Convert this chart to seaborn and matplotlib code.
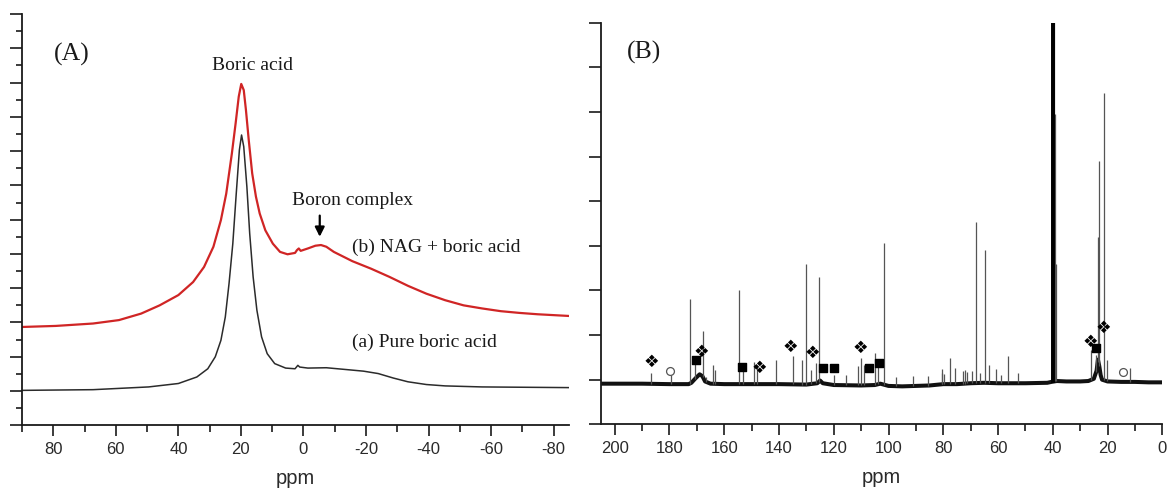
import numpy as np
import pandas as pd
import matplotlib
matplotlib.use("Agg")
import matplotlib.pyplot as plt
from matplotlib.ticker import MultipleLocator
import seaborn as sns

# ---------------- Panel A: 11B NMR spectra ----------------
# (b) NAG + boric acid
nag_ppm = [89.8, 79.2, 67.3, 59.0, 51.9, 46.0, 40.0, 35.3, 31.8, 28.8, 26.4, 24.7,
           22.9, 21.7, 20.7, 19.9, 19.1, 18.4, 17.5, 16.4, 15.2, 14.0, 12.2, 9.8,
           7.5, 5.1, 2.7, 2.1, 1.5, 0.9, -1.4, -3.8, -5.6, -7.3, -9.7, -15.6, -21.6,
           -27.5, -33.4, -39.3, -45.3, -51.2, -57.1, -63.1, -69.0, -74.9, -85.0]
nag_int = [2.87, 2.90, 2.97, 3.07, 3.26, 3.50, 3.80, 4.18, 4.62, 5.21, 5.99, 6.76,
           7.93, 8.81, 9.59, 9.96, 9.78, 9.20, 8.32, 7.35, 6.67, 6.18, 5.69, 5.30,
           5.06, 4.99, 5.03, 5.11, 5.16, 5.09, 5.16, 5.24, 5.26, 5.21, 5.06, 4.79, 4.57,
           4.33, 4.07, 3.84, 3.65, 3.50, 3.41, 3.33, 3.28, 3.24, 3.19]

# (a) Pure boric acid
pure_ppm = [89.8, 67.3, 49.5, 40.0, 34.1, 30.6, 28.2, 26.4, 25.0, 23.8, 22.6, 21.5,
            20.5, 19.8, 19.1, 18.1, 17.2, 16.1, 14.9, 13.4, 11.6, 9.2, 5.7, 2.7, 1.8,
            1.2, -1.4, -7.3, -13.3, -19.2, -23.9, -28.7, -33.4, -39.3, -45.3, -57.1, -85.0]
pure_int = [1.02, 1.04, 1.12, 1.22, 1.41, 1.65, 2.00, 2.48, 3.16, 4.14, 5.30, 6.76,
            8.03, 8.47, 8.13, 6.96, 5.60, 4.33, 3.36, 2.58, 2.09, 1.80, 1.67, 1.65, 1.75,
            1.70, 1.67, 1.68, 1.63, 1.58, 1.51, 1.38, 1.27, 1.19, 1.15, 1.12, 1.10]

# ---------------- Panel B: 13C NMR spectrum ----------------
base_ppm = [205, 190, 180, 173, 172, 170.5, 169, 168, 167, 165, 160, 150, 140, 130,
            126, 125, 124, 120, 110, 105, 103, 100, 95, 90, 85, 80, 75, 70, 65, 60,
            50, 42, 40.5, 38.5, 35, 30, 27, 25, 24, 23.5, 23, 22.5, 22, 20, 15, 10, 5, 0]
base_int = [0.91, 0.91, 0.90, 0.90, 0.93, 1.03, 1.12, 1.08, 0.96, 0.91, 0.90, 0.90,
            0.90, 0.89, 0.92, 0.98, 0.92, 0.88, 0.87, 0.88, 0.91, 0.86, 0.85, 0.86,
            0.87, 0.90, 0.90, 0.92, 0.93, 0.92, 0.92, 0.93, 0.95, 0.97, 0.96, 0.96,
            0.97, 1.02, 1.20, 1.45, 1.30, 1.10, 1.00, 0.96, 0.95, 0.95, 0.94, 0.94]

peak_ppm = [186.6, 179.3, 172.6, 170.6, 167.8, 166.6, 164.2, 163.3, 154.7, 153.2,
            149.2, 148.0, 141.0, 134.9, 131.6, 130.2, 128.4, 126.5, 125.5, 119.8,
            115.5, 111.2, 110.0, 108.8, 104.8, 103.8, 101.7, 97.3, 90.9, 85.7, 80.6,
            80.3, 79.8, 77.5, 75.6, 72.7, 72.0, 71.3, 69.6, 68.0, 66.5, 64.6, 63.3,
            60.7, 58.8, 56.2, 52.8, 40.2, 39.9, 39.6, 39.3, 39.0, 26.0, 24.2, 23.3,
            23.0, 21.2, 20.3, 11.8]
peak_int = [1.14, 1.10, 2.81, 1.35, 2.10, 1.07, 1.32, 1.22, 3.01, 1.20,
            1.39, 1.30, 1.44, 1.52, 1.44, 3.60, 1.22, 1.37, 3.31, 1.10,
            1.10, 1.30, 1.48, 1.33, 1.60, 1.30, 4.06, 1.07, 1.08, 1.08, 1.15,
            1.23, 1.12, 1.48, 1.26, 1.20, 1.22, 1.18, 1.20, 4.54, 1.15, 3.91, 1.33,
            1.23, 1.10, 1.53, 1.16, 12.0, 12.0, 12.0, 6.96, 3.60, 1.67, 1.55, 4.19,
            5.89, 7.42, 1.43, 1.26]

# assignment symbols
clover_ppm = [186.5, 168.2, 147.2, 135.7, 127.8, 110.4, 26.2, 21.5]
clover_int = [1.39, 1.61, 1.26, 1.74, 1.59, 1.70, 1.85, 2.15]
square_ppm = [170.4, 153.4, 124.0, 119.8, 107.2, 103.4, 24.2]
square_int = [1.43, 1.28, 1.26, 1.26, 1.26, 1.37, 1.70]
circle_ppm = [179.8, 14.2]
circle_int = [1.20, 1.18]

sns.set_theme(style="ticks")
plt.rcParams["font.family"] = ["Liberation Sans", "DejaVu Sans"]
plt.rcParams["axes.unicode_minus"] = False
SERIF = ["Liberation Serif", "DejaVu Serif"]

fig = plt.figure(figsize=(11.68, 4.9), dpi=100)
axA = fig.add_axes([0.01884, 0.1320, 0.4686, 0.8394])
axB = fig.add_axes([0.5146, 0.1341, 0.4805, 0.8196])

# ---- Panel A ----
dfa = pd.DataFrame({"ppm": pure_ppm, "I": pure_int})
dfb = pd.DataFrame({"ppm": nag_ppm, "I": nag_int})
sns.lineplot(data=dfb, x="ppm", y="I", ax=axA, color="#d02525", lw=1.6, sort=False)
sns.lineplot(data=dfa, x="ppm", y="I", ax=axA, color="#2b2b2b", lw=1.1, sort=False)
axA.set_xlim(90, -85)
axA.set_ylim(0, 12)
axA.xaxis.set_major_locator(MultipleLocator(20))
axA.xaxis.set_minor_locator(MultipleLocator(10))
axA.yaxis.set_major_locator(MultipleLocator(1))
axA.yaxis.set_minor_locator(MultipleLocator(0.5))
axA.set_yticklabels([])

axA.text(74.0, 10.83, "(A)", family=SERIF, fontsize=18.5, ha="center", va="center", color="#1a1a1a")
axA.text(16.2, 10.51, "Boric acid", family=SERIF, fontsize=14, ha="center", va="center", color="#1a1a1a")
axA.text(-15.6, 6.57, "Boron complex", family=SERIF, fontsize=14, ha="center", va="center", color="#1a1a1a")
axA.annotate("", xy=(-5.2, 5.42), xytext=(-5.2, 6.2),
             arrowprops=dict(arrowstyle="-|>", color="black", lw=1.6, mutation_scale=14))
axA.text(-15.4, 5.19, "(b) NAG + boric acid", family=SERIF, fontsize=14, ha="left", va="center", color="#1a1a1a")
axA.text(-15.4, 2.43, "(a) Pure boric acid", family=SERIF, fontsize=14, ha="left", va="center", color="#1a1a1a")

# ---- Panel B ----
dfbase = pd.DataFrame({"ppm": base_ppm, "I": base_int})
sns.lineplot(data=dfbase, x="ppm", y="I", ax=axB, color="#111111", lw=2.9, sort=False)
peak_base = np.interp(peak_ppm, base_ppm[::-1], base_int[::-1])
axB.vlines(peak_ppm, peak_base, peak_int, color="#555555", lw=0.9)
# thick solvent multiplet
axB.vlines([40.1, 39.8, 39.5], 0.93, 12.0, color="black", lw=1.4)
axB.scatter(square_ppm, square_int, marker="s", s=26, color="black", zorder=5)
axB.scatter(circle_ppm, circle_int, marker="o", s=32, facecolor="white",
            edgecolor="#555555", linewidth=0.9, zorder=5)
for x, y in zip(clover_ppm, clover_int):
    axB.text(x, y, "\u2756", fontsize=12.5, ha="center", va="center",
             family=["DejaVu Sans"], color="black", zorder=6)
axB.set_xlim(205, 0)
axB.set_ylim(0, 9)
axB.xaxis.set_major_locator(MultipleLocator(20))
axB.xaxis.set_minor_locator(MultipleLocator(10))
axB.yaxis.set_major_locator(MultipleLocator(1))
axB.set_yticklabels([])
axB.text(189.3, 8.34, "(B)", family=SERIF, fontsize=18.5, ha="center", va="center", color="#1a1a1a")

for ax in (axA, axB):
    sns.despine(ax=ax)
    for s in ("left", "bottom"):
        ax.spines[s].set_linewidth(1.3)
        ax.spines[s].set_color("#1a1a1a")
    ax.tick_params(axis="x", which="major", direction="out", length=8, width=1.2,
                   labelsize=12, pad=4, colors="#1a1a1a", labelcolor="#2a2a2a")
    ax.tick_params(axis="x", which="minor", direction="out", length=4.7, width=1.2, colors="#1a1a1a")
    ax.tick_params(axis="y", which="major", direction="out", length=9, width=1.2, colors="#1a1a1a")
    ax.tick_params(axis="y", which="minor", direction="out", length=4.5, width=1.2, colors="#1a1a1a")
    ax.set_xlabel("ppm", fontsize=14.5, labelpad=9, color="#2a2a2a")
    ax.set_ylabel("")
    ax.set_facecolor("white")
    ax.grid(False)

fig.savefig("out.png", dpi=100, facecolor="white")
